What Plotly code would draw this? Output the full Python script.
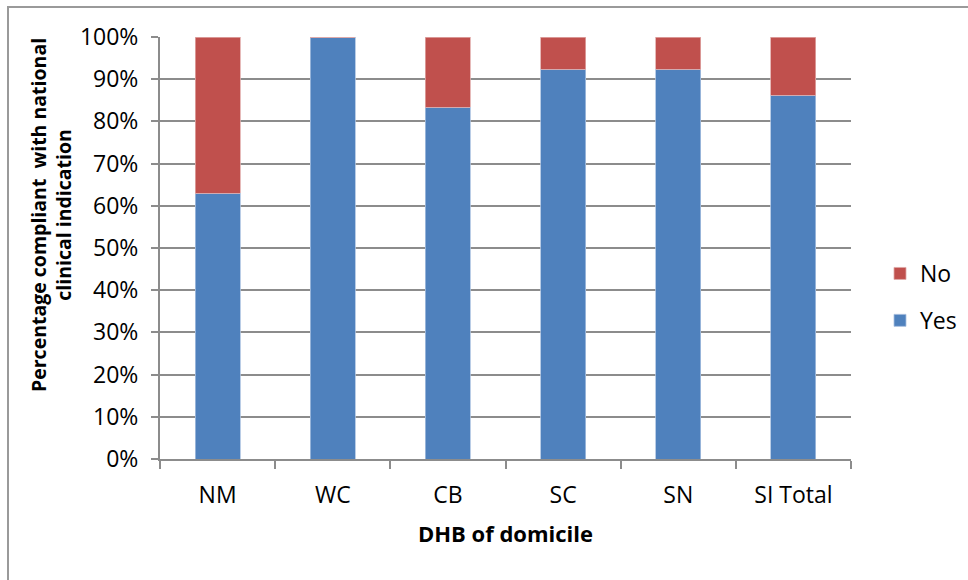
import plotly.graph_objects as go

# Compliance with national clinical indication, by DHB of domicile
categories = ["NM", "WC", "CB", "SC", "SN", "SI Total"]
yes_share = [0.63, 1.00, 0.833, 0.923, 0.923, 0.862]
no_share = [0.37, 0.00, 0.167, 0.077, 0.077, 0.138]

BLUE = "#4F81BD"
RED = "#C0504D"
GRID = "#8C8C8C"
FONT = "'Open Sans', Lato, sans-serif"

fig = go.Figure()
fig.add_trace(go.Bar(
    x=categories, y=yes_share, name="Yes", legendgroup="yes", legendrank=2,
    marker=dict(color=BLUE, line=dict(color="#A9C0E0", width=0.8)),
))
fig.add_trace(go.Bar(
    x=categories, y=no_share, name="No", legendgroup="no", legendrank=1,
    marker=dict(color=RED, line=dict(color="#E0A9A8", width=0.8)),
))

W, H = 968, 580
L, R, T, B = 160, 117, 37, 121
pw, ph = W - L - R, H - T - B

def px_x(p):
    return (p - L) / pw

def px_y(p):
    return (H - B - p) / ph

fig.update_layout(
    width=W, height=H,
    margin=dict(l=L, r=R, t=T, b=B, autoexpand=False),
    barmode="stack",
    bargap=0.61,
    plot_bgcolor="white",
    paper_bgcolor="white",
    font=dict(family=FONT, size=23, color="#000000"),
    showlegend=True,
    legend=dict(
        x=px_x(880), y=px_y(252), xanchor="left", yanchor="top",
        traceorder="grouped", tracegroupgap=14,
        font=dict(size=23), itemwidth=30,
        bgcolor="rgba(0,0,0,0)",
    ),
    xaxis=dict(
        type="category",
        showline=True, linecolor=GRID, linewidth=2,
        ticks="outside", tickson="boundaries", ticklen=8,
        tickcolor=GRID, tickwidth=1.5,
        showgrid=False,
        tickfont=dict(size=23),
        ticklabelstandoff=14,
        title=dict(text="<b>DHB of domicile</b>", font=dict(size=22), standoff=18),
    ),
    yaxis=dict(
        range=[0, 1], tickvals=[i / 10 for i in range(11)],
        tickformat=".0%",
        showline=True, linecolor=GRID, linewidth=2,
        ticks="outside", ticklen=7, tickcolor=GRID, tickwidth=1.5,
        showgrid=True, gridcolor=GRID, gridwidth=1.5,
        tickfont=dict(size=23),
        ticklabelstandoff=8,
    ),
    annotations=[
        dict(
            text="<b>Percentage compliant  with national<br>clinical indication</b>",
            xref="paper", yref="paper", x=px_x(51), y=px_y(215),
            xanchor="center", yanchor="middle", textangle=-90,
            showarrow=False, font=dict(size=19.5),
        )
    ],
    shapes=[
        dict(
            type="rect", xref="paper", yref="paper",
            x0=px_x(8), x1=px_x(W + 20), y0=px_y(H + 20), y1=px_y(7),
            line=dict(color="#9A9A9A", width=2), fillcolor="rgba(0,0,0,0)",
            layer="below",
        )
    ],
)

fig.write_html("out.html")
